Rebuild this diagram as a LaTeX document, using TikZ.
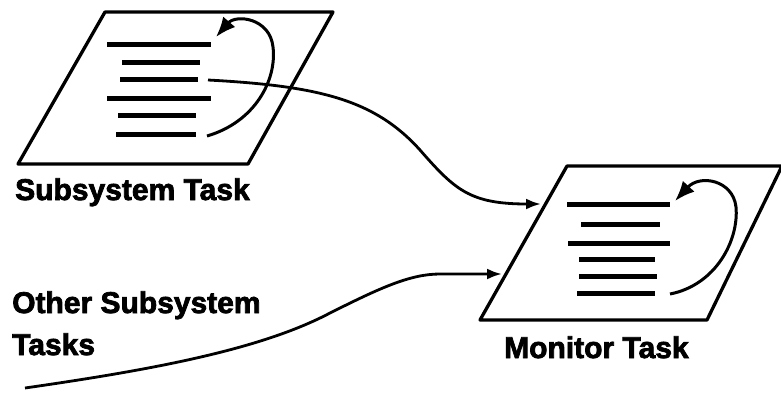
\documentclass[tikz,border=0pt]{standalone}
\usepackage{fontspec}
\newfontfamily\labelfont[FakeBold=2.5]{Liberation Sans Bold}
\usetikzlibrary{arrows.meta}
\tikzset{
  taskpage/.style={line width=3.3pt, line join=round},
  textline/.style={line width=5pt, line cap=butt},
  flow/.style={line width=2.8pt, -{Latex[length=15pt,width=11pt]}},
  loop/.style={line width=3pt, -{Latex[length=20pt,width=16pt]}},
  caption/.style={anchor=base west, inner sep=0pt, font=\labelfont\fontsize{30}{36}\selectfont}
}
\begin{document}
\begin{tikzpicture}[x=1pt,y=-1pt]
\useasboundingbox (0,0) rectangle (781,392);

% --- subsystem task page ---
\coordinate (s1) at (105,12);
\coordinate (s2) at (333,12);
\coordinate (s3) at (248,164);
\coordinate (s4) at (18,164);
\draw[taskpage] (s1) -- (s2) -- (s3) -- (s4) -- cycle;
\foreach \y/\a/\b in {44/107/211, 62/122/200, 79/120/198, 98/107/211, 115/118/196, 134/116/196}
  \draw[textline] (\a,\y) -- (\b,\y);
\coordinate (sloopA) at (207,136);
\coordinate (sloopB) at (216,37);
\draw[loop] (sloopA) .. controls (255,122) and (277,80) .. (273,47)
  .. controls (270,18) and (236,14) .. (sloopB);

% --- monitor task page ---
\coordinate (m1) at (567,166);
\coordinate (m2) at (782,166);
\coordinate (m3) at (707,320);
\coordinate (m4) at (480,320);
\draw[taskpage] (m1) -- (m2) -- (m3) -- (m4) -- cycle;
\foreach \y/\a/\b in {204/567/670, 224/581/660, 243/568/670, 259/579/655, 276/579/657, 293/577/655}
  \draw[textline] (\a,\y) -- (\b,\y);
\coordinate (mloopA) at (670,294);
\coordinate (mloopB) at (675,201);
\draw[loop] (mloopA) .. controls (716,285) and (739,240) .. (736,207)
  .. controls (733,180) and (700,174) .. (mloopB);

% --- connectors ---
\coordinate (subOut) at (208,80);
\coordinate (monIn) at (541,204);
\coordinate (otherStart) at (25,388);
\coordinate (monIn2) at (502,274);
\draw[flow] (subOut) .. controls (320,86) and (375,100) .. (420,150)
  .. controls (455,190) and (470,204) .. (monIn);
\draw[flow] (otherStart) .. controls (150,370) and (260,350) .. (330,313)
  .. controls (380,288) and (410,274) .. (440,274) -- (monIn2);

% --- captions ---
\node[caption] (subLabel) at (15,200) {Subsystem Task};
\node[caption] (otherLabel) at (12,313) {Other Subsystem};
\node[caption] (otherLabel2) at (12,355) {Tasks};
\node[caption] (monLabel) at (504,358) {Monitor Task};
\end{tikzpicture}
\end{document}
